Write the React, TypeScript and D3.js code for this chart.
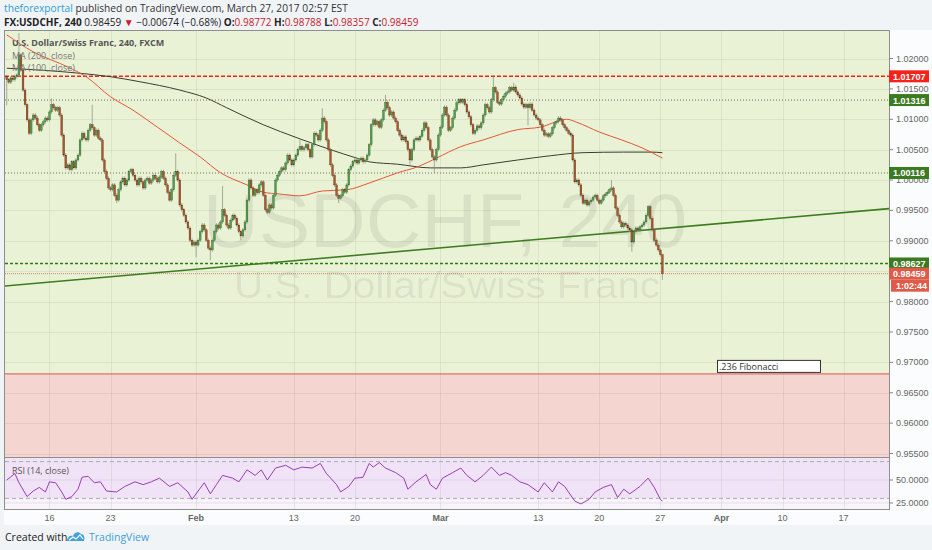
import * as d3 from 'd3'

// 4h USDCHF closes, bar 0 = Jan 11 2017, bar 21 = Jan 16 first bar
const closes = [
  1.0165, 1.0161, 1.0168, 1.0165, 1.0170, 1.0173, 1.0206, 1.0181, 1.0148, 1.0124,
  1.0099, 1.0077, 1.0099, 1.0107, 1.0102, 1.0091, 1.0082, 1.0091, 1.0096, 1.0102,
  1.0099, 1.0112, 1.0124, 1.0119, 1.0115, 1.0119, 1.0107, 1.0074, 1.0041, 1.0020,
  1.0025, 1.0017, 1.0030, 1.0020, 1.0033, 1.0041, 1.0066, 1.0077, 1.0069, 1.0066,
  1.0082, 1.0091, 1.0086, 1.0074, 1.0082, 1.0069, 1.0066, 1.0033, 1.0014, 1.0003,
  0.9987, 0.9984, 0.9992, 0.9975, 0.9967, 0.9984, 0.9997, 1.0003, 0.9992, 1.0000,
  1.0014, 1.0017, 1.0008, 1.0000, 0.9992, 1.0003, 0.9997, 0.9987, 1.0000, 1.0003,
  0.9995, 1.0000, 1.0008, 1.0003, 0.9997, 1.0005, 1.0014, 1.0003, 0.9992, 0.9980,
  0.9967, 0.9984, 1.0008, 1.0014, 1.0000, 0.9959, 0.9951, 0.9942, 0.9931, 0.9921,
  0.9901, 0.9893, 0.9898, 0.9893, 0.9901, 0.9915, 0.9926, 0.9918, 0.9901, 0.9888,
  0.9885, 0.9901, 0.9915, 0.9926, 0.9921, 0.9931, 0.9951, 0.9942, 0.9926, 0.9921,
  0.9934, 0.9942, 0.9937, 0.9926, 0.9915, 0.9908, 0.9918, 0.9931, 0.9967, 1.0000,
  0.9987, 0.9975, 0.9984, 0.9979, 0.9992, 0.9997, 0.9975, 0.9951, 0.9947, 0.9959,
  0.9954, 0.9975, 1.0000, 1.0008, 1.0014, 1.0020, 1.0017, 1.0028, 1.0041, 1.0033,
  1.0025, 1.0033, 1.0041, 1.0050, 1.0055, 1.0050, 1.0053, 1.0058, 1.0050, 1.0038,
  1.0058, 1.0077, 1.0074, 1.0066, 1.0082, 1.0102, 1.0096, 1.0066, 1.0050, 1.0025,
  1.0008, 0.9992, 0.9975, 0.9970, 0.9974, 0.9984, 0.9980, 0.9992, 1.0017, 1.0023,
  1.0030, 1.0033, 1.0028, 1.0033, 1.0036, 1.0030, 1.0033, 1.0041, 1.0058, 1.0091,
  1.0099, 1.0091, 1.0096, 1.0087, 1.0099, 1.0115, 1.0128, 1.0119, 1.0107, 1.0112,
  1.0102, 1.0096, 1.0082, 1.0074, 1.0066, 1.0071, 1.0063, 1.0050, 1.0033, 1.0050,
  1.0066, 1.0069, 1.0066, 1.0072, 1.0082, 1.0094, 1.0086, 1.0066, 1.0050, 1.0038,
  1.0033, 1.0050, 1.0074, 1.0087, 1.0107, 1.0120, 1.0107, 1.0082, 1.0086, 1.0102,
  1.0115, 1.0127, 1.0132, 1.0128, 1.0132, 1.0124, 1.0112, 1.0104, 1.0091, 1.0077,
  1.0082, 1.0089, 1.0086, 1.0094, 1.0107, 1.0124, 1.0119, 1.0112, 1.0132, 1.0152,
  1.0145, 1.0128, 1.0125, 1.0132, 1.0138, 1.0143, 1.0145, 1.0152, 1.0148, 1.0153,
  1.0145, 1.0140, 1.0135, 1.0125, 1.0120, 1.0124, 1.0119, 1.0125, 1.0115, 1.0107,
  1.0102, 1.0099, 1.0091, 1.0082, 1.0074, 1.0076, 1.0072, 1.0076, 1.0086, 1.0094,
  1.0096, 1.0102, 1.0099, 1.0091, 1.0086, 1.0082, 1.0077, 1.0074, 1.0033, 0.9997,
  1.0000, 0.9992, 0.9975, 0.9962, 0.9967, 0.9959, 0.9964, 0.9967, 0.9972, 0.9975,
  0.9967, 0.9962, 0.9967, 0.9974, 0.9977, 0.9980, 0.9984, 0.9987, 0.9975, 0.9954,
  0.9942, 0.9931, 0.9923, 0.9929, 0.9926, 0.9921, 0.9918, 0.9898, 0.9915, 0.9921,
  0.9918, 0.9923, 0.9926, 0.9931, 0.9942, 0.9956, 0.9937, 0.9918, 0.9901, 0.9893,
  0.9885, 0.98772, 0.98459,
]
const firstOpen = 1.0170

// long wicks that stand out from the bodies: [bar, price]
const highWicks: [number, number][] = [
  [6, 1.0242], [22, 1.0134], [42, 1.0124], [83, 1.0044], [106, 0.9990], [144, 1.0066],
  [155, 1.0118], [186, 1.0140], [239, 1.0170], [249, 1.0160], [297, 1.0000], [322, 0.98788],
]
const lowWicks: [number, number][] = [
  [0, 1.0123], [54, 0.9962], [93, 0.9873], [100, 0.9868], [115, 0.9901], [163, 0.9962],
  [198, 1.0025], [210, 1.0011], [256, 1.0090], [307, 0.9882], [322, 0.98357],
]

// moving averages: [bar, price]
const ma200: [number, number][] = [
  [0, 1.0184], [35, 1.0176], [51, 1.0170], [65, 1.0162], [85, 1.0148], [98, 1.0135],
  [108, 1.0119], [126, 1.0091], [143, 1.0069], [159, 1.0050], [172, 1.0036], [178, 1.0030],
  [192, 1.0026], [208, 1.0020], [223, 1.0020], [234, 1.0025], [251, 1.0033], [267, 1.0040],
  [283, 1.0045], [303, 1.0046], [316, 1.0046], [322, 1.0045],
]
const ma100: [number, number][] = [
  [0, 1.0239], [13, 1.0211], [30, 1.0186], [39, 1.0170], [51, 1.0137], [62, 1.0115],
  [74, 1.0087], [85, 1.0061], [95, 1.0038], [105, 1.0012], [118, 0.9992], [126, 0.9980],
  [134, 0.9977], [144, 0.9974], [155, 0.9982], [167, 0.9984], [178, 0.9995], [192, 1.0012],
  [202, 1.0022], [211, 1.0036], [223, 1.0055], [234, 1.0066], [251, 1.0083], [262, 1.0087],
  [275, 1.0100], [280, 1.0095], [291, 1.0079], [302, 1.0066], [312, 1.0053], [317, 1.0045],
  [322, 1.0036],
]

// RSI(14): [bar, value]
const rsi: [number, number][] = [
  [0, 50], [4, 57], [6, 47], [10, 32], [13, 38], [16, 42], [19, 37], [21, 48], [24, 47],
  [27, 37], [29, 29], [32, 32], [35, 40], [37, 53], [40, 54], [43, 47], [46, 48], [49, 38],
  [54, 37], [58, 43], [63, 48], [67, 45], [71, 48], [75, 52], [80, 43], [84, 47], [89, 37],
  [91, 29], [94, 38], [97, 47], [100, 35], [103, 45], [106, 55], [111, 52], [114, 48],
  [118, 61], [122, 55], [125, 61], [128, 50], [132, 63], [137, 66], [141, 61], [145, 64],
  [150, 63], [154, 68], [157, 57], [162, 45], [164, 37], [168, 43], [171, 52], [175, 53],
  [178, 68], [180, 64], [183, 69], [186, 63], [191, 58], [195, 52], [197, 40], [201, 48],
  [206, 56], [208, 45], [211, 40], [214, 52], [219, 58], [223, 63], [226, 55], [230, 48],
  [234, 55], [238, 64], [242, 55], [245, 58], [248, 55], [252, 48], [256, 45], [261, 37],
  [264, 47], [268, 37], [271, 48], [274, 43], [279, 27], [282, 24], [286, 29], [289, 37],
  [293, 42], [297, 45], [300, 31], [303, 40], [306, 35], [311, 43], [315, 52], [318, 42],
  [321, 29], [322, 27],
]

const timeTickBars = [21, 51, 93, 141, 171, 213, 261, 291, 321, 351, 381, 411]
const timeTickLabels = ['16', '23', 'Feb', '13', '20', 'Mar', '13', '20', '27', 'Apr', '10', '17']
const monthNames = ['Feb', 'Mar', 'Apr']

const priceTicks = [1.02, 1.015, 1.01, 1.005, 1.0, 0.995, 0.99, 0.985, 0.98, 0.975, 0.97, 0.965, 0.96, 0.955]
const rsiTicks = [50, 25]
const rsiBands = [70, 30]

const levelPrices = [1.01707, 1.01316, 1.00116, 0.98627]
const levelKinds = ['resistance', 'pivot', 'pivot', 'support']
const lastPrice = 0.98459
const countdown = '1:02:44'
const fibLevel = 0.9681
const fibLabel = '.236 Fibonacci'
const trendAnchors: [number, number][] = [[21, 0.9832], [321, 0.9920]]

const author = 'theforexportal'
const published = ' published on TradingView.com, March 27, 2017 02:57 EST'
const symbol = 'FX:USDCHF, 240'
const quoteLast = '0.98459'
const quoteChange = '−0.00674 (−0.68%)'
const ohlcKeys = ['O:', 'H:', 'L:', 'C:']
const ohlcValues = ['0.98772', '0.98788', '0.98357', '0.98459']
const seriesTitle = 'U.S. Dollar/Swiss Franc, 240, FXCM'
const maTitles = ['MA (200, close)', 'MA (100, close)']
const watermark = 'USDCHF, 240'
const watermarkSub = 'U.S. Dollar/Swiss Franc'

const W = 932
const H = 550
const left = 5
const right = 889
const mainTop = 31
const mainBottom = 457
const rsiTop = 458
const rsiBottom = 509

const sans = "'Open Sans', 'Liberation Sans', sans-serif"
const axisFont = "'Liberation Sans', Arial, sans-serif"

const levelStyle: Record<string, { stroke: string; dash: string; width: number; bg: string }> = {
  resistance: { stroke: '#f2231b', dash: '4 2', width: 1.5, bg: '#f2231b' },
  pivot: { stroke: '#6b6b5a', dash: '1 2', width: 1, bg: '#3b7a21' },
  support: { stroke: '#2b7d17', dash: '3 2', width: 1.4, bg: '#3b7a21' },
}

export default function App() {
  const x = d3.scaleLinear().domain([-0.85, 433.3]).range([left, right])
  const y = d3.scaleLinear().domain([0.955, 1.02]).range([453.5, 58.5])
  const ry = d3.scaleLinear().domain([25, 50]).range([503, 480])

  const highMap = new Map(highWicks)
  const lowMap = new Map(lowWicks)
  const bars = closes.map((c, b) => {
    const o = b === 0 ? firstOpen : closes[b - 1]
    const hi = highMap.get(b) ?? Math.max(o, c) + 0.0003
    const lo = lowMap.get(b) ?? Math.min(o, c) - 0.0003
    return { b, o, c, hi, lo }
  })

  const maLine = d3.line<[number, number]>().x((d) => x(d[0])).y((d) => y(d[1])).curve(d3.curveMonotoneX)
  const rsiLine = d3.line<[number, number]>().x((d) => x(d[0])).y((d) => ry(d[1]))

  const [[b1, p1], [b2, p2]] = trendAnchors
  const slope = (p2 - p1) / (b2 - b1)
  const [d0, d1] = x.domain()
  const trendY0 = y(p1 + (d0 - b1) * slope)
  const trendY1 = y(p1 + (d1 - b1) * slope)

  const fibY = y(fibLevel)
  // axis labels fully covered by a price marker are not drawn
  const markerYs = [...levelPrices, lastPrice].map((p) => y(p))
  const labelHidden = (p: number) => markerYs.some((my) => Math.abs(my - y(p)) < 5)

  return (
    <div style={{ position: 'absolute', left: 0, top: 0, width: W, height: H, background: '#f1f4f7' }}>
      <svg width={W} height={H} style={{ display: 'block' }}>
        <defs>
          <clipPath id="mainClip">
            <rect x={left} y={mainTop} width={right - left} height={mainBottom - mainTop} />
          </clipPath>
          <clipPath id="rsiClip">
            <rect x={left} y={rsiTop} width={right - left} height={rsiBottom - rsiTop} />
          </clipPath>
        </defs>

        {/* header */}
        <text x={4} y={12} fontFamily={sans} fontSize={10.2} fill="#333">
          <tspan fill="#2f9bd6">{author}</tspan>
          <tspan>{published}</tspan>
        </text>
        <text x={4} y={26} fontFamily={sans} fontSize={10} fill="#222">
          <tspan fontWeight="bold">{symbol}</tspan>
          <tspan>{' ' + quoteLast + ' '}</tspan>
          <tspan fill="#c9202b">▼</tspan>
          <tspan>{' ' + quoteChange}</tspan>
          {ohlcKeys.map((k, i) => (
            <tspan key={k}>
              <tspan fontWeight="bold">{' ' + k}</tspan>
              <tspan fill="#c9202b">{ohlcValues[i]}</tspan>
            </tspan>
          ))}
        </text>

        {/* chart box */}
        <rect x={4} y={30} width={W - 4} height={495} fill="#fbfcfd" />
        <rect x={left} y={mainTop} width={right - left} height={mainBottom - mainTop} fill="#eaf2d6" />
        <rect x={left} y={fibY} width={right - left} height={mainBottom - fibY} fill="#f5d5d0" />
        <rect x={left} y={rsiTop} width={right - left} height={rsiBottom - rsiTop} fill="#f8f2fa" />
        <rect x={left} y={rsiTop} width={right - left} height={ry(rsiBands[1]) - rsiTop} fill="#f1e3f7" />

        {/* grid */}
        <g stroke="#5a6a40" strokeOpacity={0.1} strokeWidth={1}>
          {priceTicks.map((p) => (
            <line key={p} x1={left} x2={right} y1={Math.round(y(p)) + 0.5} y2={Math.round(y(p)) + 0.5} />
          ))}
          {timeTickBars.map((b) => (
            <g key={b}>
              <line x1={Math.round(x(b)) + 0.5} x2={Math.round(x(b)) + 0.5} y1={mainTop} y2={mainBottom} />
              <line x1={Math.round(x(b)) + 0.5} x2={Math.round(x(b)) + 0.5} y1={rsiTop} y2={rsiBottom} />
            </g>
          ))}
        </g>

        {/* watermark */}
        <text x={445} y={247} textAnchor="middle" fontFamily={axisFont} fontSize={76} fill="#000" fillOpacity={0.075}
          textLength={484} lengthAdjust="spacingAndGlyphs">{watermark}</text>
        <text x={447} y={298} textAnchor="middle" fontFamily={axisFont} fontSize={36} fill="#000" fillOpacity={0.075}
          textLength={426} lengthAdjust="spacingAndGlyphs">{watermarkSub}</text>

        <g clipPath="url(#mainClip)">
          {/* fibonacci level */}
          <line x1={left} x2={right} y1={fibY} y2={fibY} stroke="#d9534f" strokeWidth={1} />

          {/* horizontal levels */}
          {levelPrices.map((p, i) => {
            const s = levelStyle[levelKinds[i]]
            return (
              <line key={p} x1={left} x2={right} y1={y(p)} y2={y(p)} stroke={s.stroke}
                strokeDasharray={s.dash} strokeWidth={s.width} />
            )
          })}
          <line x1={left} x2={right} y1={y(lastPrice)} y2={y(lastPrice)} stroke="#c8826f" strokeDasharray="1 1" />

          {/* trend line */}
          <line x1={x(d0)} x2={x(d1)} y1={trendY0} y2={trendY1} stroke="#3d7d1f" strokeWidth={1.6} />

          {/* moving averages */}
          <path d={maLine(ma200) ?? ''} fill="none" stroke="#3c3d30" strokeWidth={1} />
          <path d={maLine(ma100) ?? ''} fill="none" stroke="#e5563a" strokeWidth={1} />

          {/* candles */}
          {bars.map((d) => {
            const up = d.c >= d.o
            const top = y(Math.max(d.o, d.c))
            const h = Math.max(1, y(Math.min(d.o, d.c)) - top)
            return (
              <g key={d.b}>
                <line x1={x(d.b)} x2={x(d.b)} y1={y(d.hi)} y2={y(d.lo)} stroke="#8f9887" strokeWidth={0.8} />
                <rect x={x(d.b) - 0.9} y={top} width={1.8} height={h} fill={up ? '#529e4c' : '#a9582b'}
                  stroke={up ? '#2f5f2c' : '#5e3318'} strokeWidth={0.35} />
              </g>
            )
          })}
        </g>

        {/* legend */}
        <text x={12} y={46} fontFamily={sans} fontSize={9} fontWeight="bold" fill="#555">{seriesTitle}</text>
        {maTitles.map((t, i) => (
          <text key={t} x={12} y={59 + i * 12} fontFamily={sans} fontSize={9} fill="#777">{t}</text>
        ))}

        {/* fib label */}
        <rect x={717.5} y={fibY - 13.5} width={103} height={12} fill="#fff" stroke="#333" strokeWidth={1} />
        <text x={719} y={fibY - 4} fontFamily={sans} fontSize={9} fill="#333">{fibLabel}</text>

        {/* RSI pane */}
        <g clipPath="url(#rsiClip)">
          {rsiTicks.map((v) => (
            <line key={v} x1={left} x2={right} y1={ry(v)} y2={ry(v)} stroke="#5a4a70" strokeOpacity={0.1} />
          ))}
          {rsiBands.map((v) => (
            <line key={v} x1={left} x2={right} y1={ry(v)} y2={ry(v)} stroke="#aaa" strokeDasharray="4 3" />
          ))}
          <path d={rsiLine(rsi) ?? ''} fill="none" stroke="#9a3db4" strokeWidth={1} />
        </g>
        <text x={12} y={474} fontFamily={sans} fontSize={9} fill="#555">RSI (14, close)</text>

        {/* frames */}
        <rect x={4.5} y={30.5} width={right - 4} height={rsiBottom - 30} fill="none" stroke="#8e8e8e" />
        <line x1={left} x2={right} y1={457.5} y2={457.5} stroke="#8e8e8e" />

        {/* price axis */}
        <g fontFamily={axisFont} fontSize={9} fill="#666">
          {priceTicks.map((p) => (
            <g key={p}>
              <line x1={right} x2={right + 4} y1={y(p)} y2={y(p)} stroke="#888" />
              {!labelHidden(p) && <text x={896} y={y(p) + 3}>{p.toFixed(5)}</text>}
            </g>
          ))}
          {rsiTicks.map((v) => (
            <g key={v}>
              <line x1={right} x2={right + 4} y1={ry(v)} y2={ry(v)} stroke="#888" />
              <text x={896} y={ry(v) + 3}>{v.toFixed(4)}</text>
            </g>
          ))}
        </g>

        {/* price markers */}
        <g fontFamily={axisFont} fontSize={9} fontWeight="bold" fill="#fff">
          {levelPrices.map((p, i) => (
            <g key={p}>
              <rect x={right} y={y(p) - 6} width={40} height={12} fill={levelStyle[levelKinds[i]].bg} />
              <text x={893} y={y(p) + 3.5}>{p.toFixed(5)}</text>
            </g>
          ))}
          <rect x={right} y={y(lastPrice) - 6} width={40} height={12} fill="#e05a48" />
          <text x={893} y={y(lastPrice) + 3.5}>{lastPrice.toFixed(5)}</text>
          <rect x={right + 2} y={y(lastPrice) + 6} width={38} height={12} fill="#e05a48" />
          <text x={896} y={y(lastPrice) + 15.5}>{countdown}</text>
        </g>

        {/* time axis */}
        <g fontFamily={axisFont} fontSize={9} fill="#666" textAnchor="middle">
          {timeTickBars.map((b, i) => (
            <text key={b} x={x(b)} y={521} fontWeight={monthNames.includes(timeTickLabels[i]) ? 'bold' : 'normal'}>
              {timeTickLabels[i]}
            </text>
          ))}
        </g>

        {/* footer */}
        <text x={5} y={541} fontFamily={sans} fontSize={10.5} fill="#222">Created with</text>
        <g transform="translate(67,531)">
          <path d="M0,10 C0,6 3,4 6,5 C7,1 12,0 14,3 C17,3 18,6 17,10 Z" fill="#41a1d8" />
          <path d="M2,9 L6,6 L9,8 L13,4 L16,8" fill="none" stroke="#fff" strokeWidth={1.2} />
        </g>
        <text x={89} y={541} fontFamily={sans} fontSize={10.5} fill="#3fa0d6">TradingView</text>
      </svg>
    </div>
  )
}
